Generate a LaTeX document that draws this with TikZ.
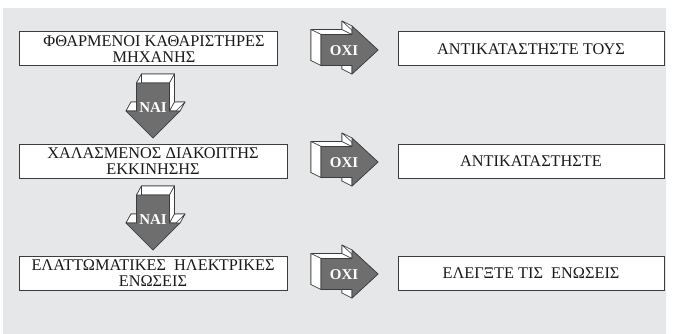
\documentclass[tikz,border=0pt]{standalone}
\usepackage{fontspec}
\setmainfont{Liberation Serif}
\definecolor{bg}{HTML}{E6E7E8}
\definecolor{arrowgray}{HTML}{6E6E6E}
\definecolor{edge}{HTML}{3C3C3C}
\tikzset{
  box/.style={draw=edge, line width=1pt, fill=white, inner sep=0pt, align=center,
    font=\fontsize{16.3}{16.5}\selectfont, text=black!90},
  face/.style={fill=white, draw=edge, line width=0.6pt, line join=round},
  front/.style={fill=arrowgray, draw=edge, line width=0.6pt, line join=round},
  lbl/.style={text=white, font=\fontsize{15}{15}\selectfont\bfseries, inner sep=0pt}
}
\newcommand{\RArrow}[3]{%
\begin{scope}[shift={(#1,#2)}]
 \filldraw[face] (-10,-20.5) -- (21,-20.5) -- (21,-29) -- (47,-5) -- (21,19) -- (21,10.5) -- (-10,10.5) -- cycle;
 \foreach \ax/\ay/\bx/\by in {0/-15.5/31/-15.5, 31/-15.5/31/-24, 31/-24/57/0, 57/0/31/24, 31/24/31/15.5, 31/15.5/0/15.5, 0/15.5/0/-15.5}
   \filldraw[face] (\ax,\ay) -- (\bx,\by) -- ({\bx-10},{\by-5}) -- ({\ax-10},{\ay-5}) -- cycle;
 \filldraw[front] (0,-15.5) -- (31,-15.5) -- (31,-24) -- (57,0) -- (31,24) -- (31,15.5) -- (0,15.5) -- cycle;
 \node[lbl] (#3) at (23,1) {ΟΧΙ};
\end{scope}}
\newcommand{\DArrow}[3]{%
\begin{scope}[shift={(#1,#2)}]
 \filldraw[face] (-11.5,-9) -- (21.5,-9) -- (21.5,19) -- (32,19) -- (5,46) -- (-22,19) -- (-11.5,19) -- cycle;
 \foreach \ax/\ay/\bx/\by in {-16.5/0/16.5/0, 16.5/0/16.5/28, 16.5/28/27/28, 27/28/0/55, 0/55/-27/28, -27/28/-16.5/28, -16.5/28/-16.5/0}
   \filldraw[face] (\ax,\ay) -- (\bx,\by) -- ({\bx+5},{\by-9}) -- ({\ax+5},{\ay-9}) -- cycle;
 \filldraw[front] (-16.5,0) -- (16.5,0) -- (16.5,28) -- (27,28) -- (0,55) -- (-27,28) -- (-16.5,28) -- cycle;
 \node[lbl] (#3) at (0,24.5) {ΝΑΙ};
\end{scope}}
\begin{document}
\begin{tikzpicture}[x=1pt,y=-1pt]
\useasboundingbox (0,0) rectangle (679,334);
\fill[white] (0,0) rectangle (679,334);
\fill[bg] (3,8) rectangle (666,334);
% left column
\node[box, minimum width=258pt, minimum height=34pt] (b1) at (148,49)
  {\hspace*{12pt}ΦΘΑΡΜΕΝΟΙ ΚΑΘΑΡΙΣΤΗΡΕΣ\\\hspace*{12pt}ΜΗΧΑΝΗΣ};
\node[box, minimum width=268pt, minimum height=34pt] (b2) at (153,161)
  {ΧΑΛΑΣΜΕΝΟΣ ΔΙΑΚΟΠΤΗΣ\\ΕΚΚΙΝΗΣΗΣ};
\node[box, minimum width=268pt, minimum height=34pt] (b3) at (153,273)
  {ΕΛΑΤΤΩΜΑΤΙΚΕΣ\ \ ΗΛΕΚΤΡΙΚΕΣ\\ΕΝΩΣΕΙΣ};
% right column
\node[box, minimum width=266pt, minimum height=34pt] (r1) at (531,49) {ΑΝΤΙΚΑΤΑΣΤΗΣΤΕ ΤΟΥΣ};
\node[box, minimum width=266pt, minimum height=34pt] (r2) at (531,161) {ΑΝΤΙΚΑΤΑΣΤΗΣΤΕ};
\node[box, minimum width=266pt, minimum height=34pt] (r3) at (531,273) {ΕΛΕΓΞΤΕ ΤΙΣ\ \ ΕΝΩΣΕΙΣ};
% arrows
\RArrow{321}{50}{no1}
\RArrow{321}{162}{no2}
\RArrow{321}{274}{no3}
\DArrow{153}{83}{yes1}
\DArrow{153}{195}{yes2}
\end{tikzpicture}
\end{document}
